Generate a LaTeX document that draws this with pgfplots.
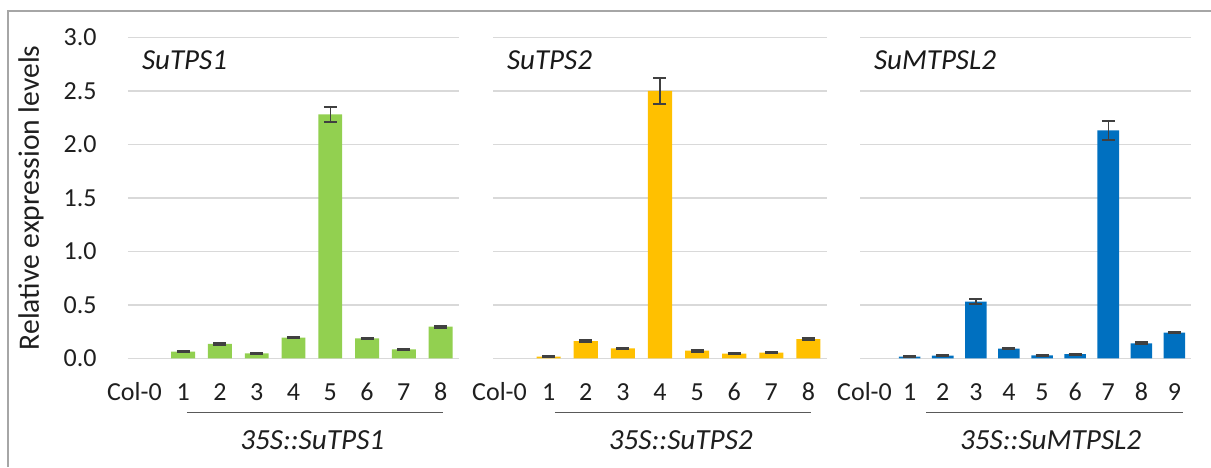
\documentclass[border=0pt]{standalone}
\usepackage{fontspec}
\setmainfont{Carlito}
\usepackage{pgfplots}
\usepackage{pgfplotstable}
\pgfplotsset{compat=1.18}
\definecolor{cgreen}{HTML}{92D050}
\definecolor{cyellow}{HTML}{FFC000}
\definecolor{cblue}{HTML}{0070C0}
\definecolor{errc}{HTML}{404040}
\definecolor{gridc}{HTML}{D9D9D9}
\definecolor{framec}{HTML}{A6A6A6}
\definecolor{linec}{HTML}{595959}

\pgfplotstableread{
x y e
1 0.062 0.008
2 0.134 0.012
3 0.047 0.006
4 0.193 0.008
5 2.280 0.070
6 0.187 0.007
7 0.084 0.006
8 0.296 0.010
}\dataA
\pgfplotstableread{
x y e
1 0.016 0.005
2 0.160 0.008
3 0.093 0.008
4 2.500 0.120
5 0.071 0.008
6 0.044 0.006
7 0.053 0.006
8 0.180 0.006
}\dataB
\pgfplotstableread{
x y e
1 0.016 0.004
2 0.025 0.005
3 0.530 0.025
4 0.090 0.006
5 0.028 0.004
6 0.040 0.005
7 2.130 0.090
8 0.140 0.010
9 0.240 0.008
}\dataC

\pgfplotsset{panel/.style={
  scale only axis, height=160.5pt, ymin=0, ymax=3, ytick={0,0.5,...,3},
  ymajorgrids, major grid style={gridc, line width=0.7pt},
  axis line style={draw=none}, major tick length=0,
  ybar, bar width=0.65, clip=false,
  tick label style={font=\fontsize{13}{15}\selectfont, text=black!88},
  xticklabel style={anchor=base, yshift=-20.85pt, inner sep=0pt},
  yticklabel style={anchor=east, inner sep=0pt, xshift=-15.5pt},
  /pgf/number format/fixed, /pgf/number format/fixed zerofill,
  /pgf/number format/precision=1, /pgf/number format/assume math mode=true,
}, 
barstyle/.style={draw=none, fill=#1,
  error bars/.cd, y dir=both, y explicit,
  error bar style={errc, line width=0.7pt},
  error mark options={errc, rotate=90, mark size=3.25pt, line width=0.95pt}},
}
\tikzset{
ttl/.style={anchor=west, xshift=3.5pt, yshift=-11.35pt, font=\fontsize{14.5}{16}\selectfont\itshape, text=black!90},
sub/.style={anchor=base, font=\fontsize{14.6}{16}\selectfont\itshape, text=black!88},
}

\begin{document}
\begin{tikzpicture}
\path[use as bounding box] (0,0) rectangle (605.5pt,233.5pt);
\draw[framec, line width=0.7pt] (4pt,0) -- (4pt,228pt) -- (605.5pt,228pt);
\node[rotate=90, font=\fontsize{14.8}{16}\selectfont, text=black!88] at (15.5pt,134.6pt) {Relative expression levels};

\begin{axis}[panel, at={(64pt,54.35pt)}, anchor=south west, width=165.5pt,
  xmin=-0.5, xmax=8.5, xtick={0,...,8},
  xticklabels={\hspace*{-12pt}Col-0,1,2,3,4,5,6,7,8}]
\addplot[barstyle=cgreen] table[x=x, y=y, y error=e] {\dataA};
\node[ttl] at (rel axis cs:0,1) {SuTPS1};
\draw[linec, line width=0.75pt] (axis cs:1.1,-0.508) -- (axis cs:8.07,-0.508);
\node[sub] at (axis cs:4.51,-0.857) {35S::SuTPS1};
\end{axis}

\begin{axis}[panel, at={(246.5pt,54.35pt)}, anchor=south west, width=167pt,
  xmin=-0.5, xmax=8.5, xtick={0,...,8}, yticklabels={},
  xticklabels={\hspace*{-12pt}Col-0,1,2,3,4,5,6,7,8}]
\addplot[barstyle=cyellow] table[x=x, y=y, y error=e] {\dataB};
\node[ttl] at (rel axis cs:0,1) {SuTPS2};
\draw[linec, line width=0.75pt] (axis cs:1.17,-0.508) -- (axis cs:8.07,-0.508);
\node[sub] at (axis cs:4.56,-0.857) {35S::SuTPS2};
\end{axis}

\begin{axis}[panel, at={(430pt,54.35pt)}, anchor=south west, width=165.5pt,
  xmin=-0.5, xmax=9.5, xtick={0,...,9}, yticklabels={},
  xticklabels={\hspace*{-12pt}Col-0,1,2,3,4,5,6,7,8,9}]
\addplot[barstyle=cblue] table[x=x, y=y, y error=e] {\dataC};
\node[ttl] at (rel axis cs:0,1) {SuMTPSL2};
\draw[linec, line width=0.75pt] (axis cs:1.5,-0.508) -- (axis cs:9.27,-0.508);
\node[sub] at (axis cs:5.26,-0.857) {35S::SuMTPSL2};
\end{axis}
\end{tikzpicture}
\end{document}
